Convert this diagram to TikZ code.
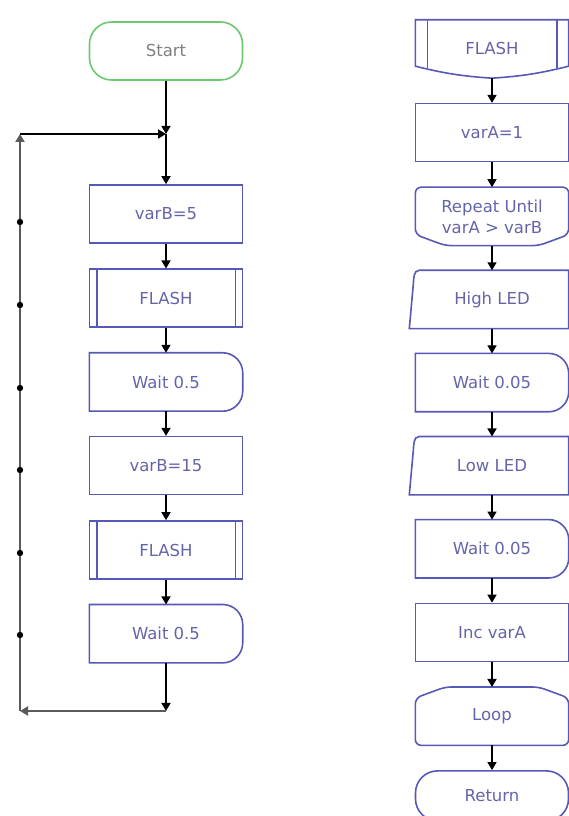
\documentclass[tikz,border=0pt]{standalone}
\usepackage{fontspec}
\setsansfont{DejaVu Sans}
\usetikzlibrary{arrows.meta, positioning}

\definecolor{boxblue}{RGB}{88,88,184}
\definecolor{textblue}{RGB}{100,100,170}
\definecolor{startgreen}{RGB}{110,200,110}
\definecolor{loopgray}{RGB}{90,90,90}

\begin{document}
\begin{tikzpicture}[
    x=1pt, y=1pt,
    font=\sffamily\fontsize{16.5}{21}\selectfont,
    block/.style={minimum width=153pt, minimum height=58pt, inner sep=2pt, text=textblue, align=center},
    outline/.style={draw=boxblue, line width=1.6pt},
    terminal/.style={block, rounded corners=22pt, line width=1.6pt},
    flow/.style={draw=black, line width=1.5pt, -{Triangle[length=8pt, width=9pt]}},
    loopback/.style={draw=loopgray, line width=2pt, -{Triangle[length=8pt, width=9pt]}},
    node distance=24.7pt
]
    \useasboundingbox (0,0) rectangle (569,816);

    % Main program
    \node [terminal, draw=startgreen, text=gray] (start) at (166,765) {Start};
    \coordinate (join) at (166,682);
    \node [block, outline] (setb5) at (166,602) {varB=5};
    \node [block, outline] (flasha) [below=of setb5] {FLASH};
    \node [block] (waita) [below=of flasha] {Wait 0.5};
    \node [block, outline] (setb15) [below=of waita] {varB=15};
    \node [block, outline] (flashb) [below=of setb15] {FLASH};
    \node [block] (waitb) [below=of flashb] {Wait 0.5};
    \coordinate (br) at (166,105);
    \coordinate (bl) at (20,105);
    \coordinate (tl) at (20,682);

    % FLASH macro
    \node [block] (macro) at (492,767) {FLASH};
    \node [block, outline] (seta) [below=of macro] {varA=1};
    \node [block] (rep) [below=of seta] {Repeat Until\\varA > varB};
    \node [block] (hiled) [below=of rep] {High LED};
    \node [block] (waitc) [below=of hiled] {Wait 0.05};
    \node [block] (loled) [below=of waitc] {Low LED};
    \node [block] (waitd) [below=of loled] {Wait 0.05};
    \node [block, outline] (inca) [below=of waitd] {Inc varA};
    \node [block] (loopend) [below=of inca] {Loop};
    \node [terminal, draw=boxblue, minimum height=50pt] (ret) [below=of loopend] {Return};

    % Macro calls
    \foreach \n in {flasha, flashb} {
        \draw [outline] ([xshift=8pt]\n.north west) -- ([xshift=8pt]\n.south west);
        \draw [outline] ([xshift=-8pt]\n.north east) -- ([xshift=-8pt]\n.south east);
    }

    % Delays
    \foreach \n in {waita, waitb, waitc, waitd}
        \draw [outline] (\n.south west) -- (\n.north west) -- ([xshift=-20pt]\n.north east)
            arc [start angle=90, end angle=0, radius=20pt] -- ([yshift=20pt]\n.south east)
            arc [start angle=0, end angle=-90, radius=20pt] -- cycle;

    % Outputs
    \foreach \n in {hiled, loled}
        \draw [outline] (\n.north east) -- ([xshift=4pt]\n.north west)
            to [out=180, in=85] ([xshift=-2pt, yshift=-14pt]\n.north west)
            -- ([xshift=-6pt]\n.south west) -- (\n.south east) -- cycle;

    % Macro entry, loop start and loop end
    \draw [outline] (macro.north west) -- (macro.north east) -- ([yshift=12pt]macro.south east)
        to [bend left=5] (macro.south) to [bend left=5] ([yshift=12pt]macro.south west) -- cycle;
    \draw [outline] ([xshift=12pt]macro.north west) -- ([xshift=12pt, yshift=10pt]macro.south west);
    \draw [outline] ([xshift=-12pt]macro.north east) -- ([xshift=-12pt, yshift=10pt]macro.south east);
    \draw [outline, rounded corners=6pt] (rep.north west) -- (rep.north east) -- ([yshift=11pt]rep.south east)
        -- ([xshift=-30pt]rep.south east) -- ([xshift=30pt]rep.south west) -- ([yshift=11pt]rep.south west) -- cycle;
    \draw [outline, rounded corners=6pt] (loopend.south west) -- (loopend.south east) -- ([yshift=-11pt]loopend.north east)
        -- ([xshift=-30pt]loopend.north east) -- ([xshift=30pt]loopend.north west) -- ([yshift=-11pt]loopend.north west) -- cycle;

    % Connectors
    \draw [flow] (start) -- (join);
    \draw [flow] (join) -- (setb5);
    \foreach \a/\b in {setb5/flasha, flasha/waita, waita/setb15, setb15/flashb, flashb/waitb,
        macro/seta, seta/rep, rep/hiled, hiled/waitc, waitc/loled, loled/waitd, waitd/inca, inca/loopend, loopend/ret}
        \draw [flow] (\a) -- (\b);

    % Endless loop
    \draw [flow] (waitb) -- (br);
    \draw [loopback] (br) -- (bl);
    \draw [loopback] (bl) -- (tl);
    \draw [loopback, draw=black] (tl) -- (join);
    \foreach \y in {594, 511, 428, 346, 263, 181}
        \fill [black] (20,\y) circle [radius=3.2pt];
\end{tikzpicture}
\end{document}
